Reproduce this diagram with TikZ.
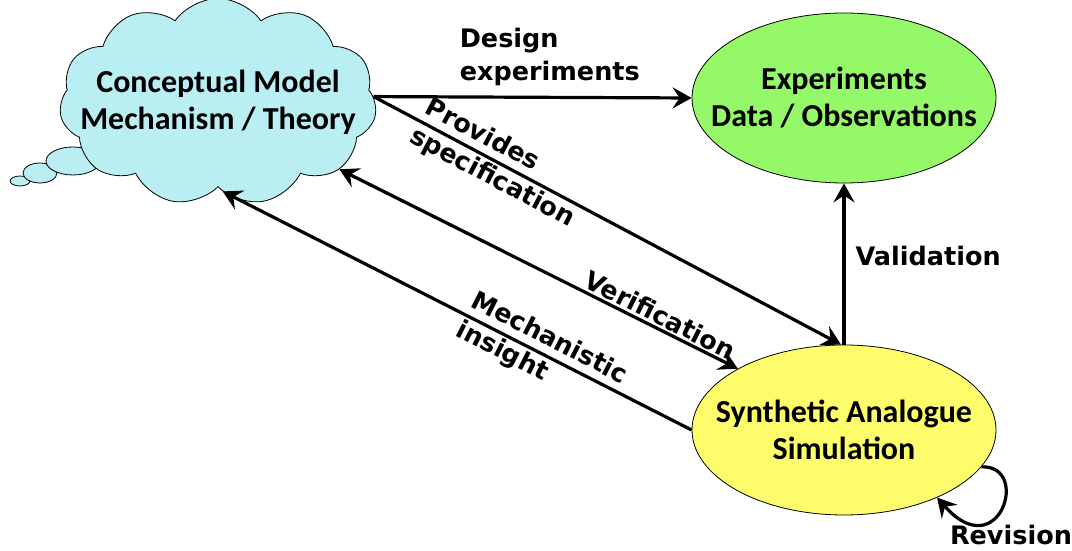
\documentclass[tikz,border=0pt]{standalone}
\usepackage{fontspec}
\setmainfont{DejaVu Sans}
\newfontfamily\nodefont{Carlito}
\usetikzlibrary{shapes.symbols,shapes.geometric,arrows.meta}
\definecolor{cloudfill}{RGB}{185,238,242}
\definecolor{expfill}{RGB}{148,248,104}
\definecolor{simfill}{RGB}{253,253,108}
\begin{document}
\begin{tikzpicture}[x=1pt,y=1pt,
  >={Stealth[length=19pt,width=21pt,inset=7pt]},
  arr/.style={line width=3.2pt,->},
  arrboth/.style={line width=3.2pt,<->},
  lbl/.style={font=\fontsize{25.5}{33}\selectfont\bfseries, align=left, inner sep=2pt},
  bubble/.style={draw, line width=0.8pt, fill=cloudfill},
  blob/.style={ellipse, draw, line width=0.8pt, minimum width=304pt,
    minimum height=170pt, inner xsep=-40pt, inner ysep=0pt, align=center,
    font=\nodefont\fontsize{32}{37}\selectfont\bfseries}]
\useasboundingbox (0,0) rectangle (1072,551);

% thought bubbles trailing off the cloud
\draw[bubble] (20,370) ellipse [x radius=10, y radius=5];
\draw[bubble] (40,378) ellipse [x radius=17, y radius=10];
\draw[bubble] (73,390) ellipse [x radius=27, y radius=14];

% the three main blocks
\node[cloud, cloud puffs=11, cloud puff arc=110, aspect=1.8, draw,
  line width=0.8pt, fill=cloudfill, minimum width=255pt, minimum height=116pt,
  inner sep=-30pt, align=center, font=\nodefont\fontsize{32}{37}\selectfont\bfseries]
  (cloud) at (218,449) {Conceptual Model\\Mechanism / Theory};
\node[blob, fill=expfill] (exp) at (844,453) {Experiments\\Data / Observations};
\node[blob, fill=simfill] (syn) at (844,121) {Synthetic Analogue\\Simulation};

% connectors
\draw[arr] (cloud.2) -- (exp.west)
  node[lbl, pos=0.26, above=8pt, anchor=south west] (designlbl) {Design\\experiments};
\draw[arr] (cloud.2) -- node[lbl, sloped, pos=0.27] (provlbl) {Provides\\specification} (syn.92);
\draw[arrboth] (cloud.-29) -- node[lbl, sloped, above, pos=0.79] (verlbl) {Verification} (syn.150);
\draw[arr] (syn.west) -- node[lbl, sloped, pos=0.32] (mechlbl) {Mechanistic\\insight} (cloud.-87);
\draw[arr] (syn.north) -- node[lbl, right=8pt, pos=0.55] (vallbl) {Validation} (exp.south);

% self loop on the simulation
\draw[arr] (syn.-15) .. controls +(50,2) and +(62,-70) .. (syn.-36);
\node[lbl] (revlbl) at (1011,16) {Revision};
\end{tikzpicture}
\end{document}
